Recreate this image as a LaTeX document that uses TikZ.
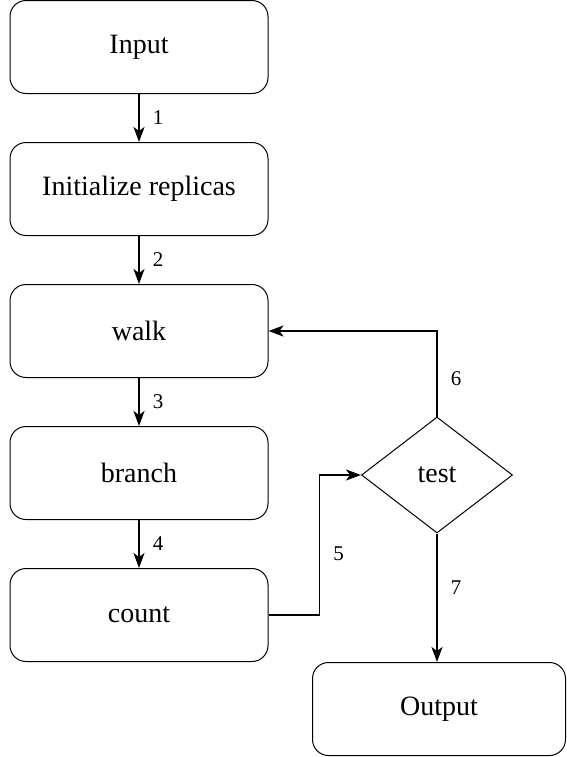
\documentclass[tikz,border=0pt]{standalone}
\usepackage{fontspec}
\setmainfont{Liberation Serif}
\usepackage{tikz}
\usetikzlibrary{arrows.meta}
\usetikzlibrary{positioning}
\usetikzlibrary{shapes.geometric}
\tikzstyle{every node}+=[inner sep=0pt]
\tikzstyle{block} = [rectangle, draw, line width=0.5pt, font=\fontsize{14}{16}\selectfont, text centered, rounded corners=8pt, minimum height=46.5pt, minimum width=129pt]
\tikzstyle{decision} = [diamond, draw, line width=0.5pt, font=\fontsize{14}{16}\selectfont, minimum width=75.5pt, minimum height=58pt]
\tikzstyle{line} = [draw, line width=0.9pt, -{Stealth[length=7.5pt, width=5.5pt, inset=2pt]}]
\tikzstyle{value} = [font=\fontsize{10.5}{12}\selectfont, inner sep=6.5pt]

\begin{document}
\begin{tikzpicture}[node distance = 71pt, auto]
            \useasboundingbox (0,0) rectangle (283.5pt,-378.5pt);
            % Place nodes
            \node [block] (in) at (69.5pt,-23.5pt) {Input};
            \node [block, below of=in] (init) {Initialize replicas};
            \node [block, below of=init] (walk) {walk};
            \node [block, below of=walk] (branch) {branch};
            \node [block, below of=branch] (count) {count};
            \node [decision, right of=branch, node distance=149pt, yshift=-1pt] (test) {test};
            \node [block, below of=test, node distance=117pt, xshift=1pt, minimum width=126.5pt] (out) {Output};
            % Draw edges
            \path [line] (in) -- node [value] {1} (init);
            \path [line] (init) -- node [value] {2} (walk);
            \path [line] (walk) -- node [value] {3} (branch);
            \path [line] (branch) -- node [value] {4} (count);
            \path [line] (count.east) -- ++(25.5pt,0) |- node [value, right, pos=0.22] {5} (test.west);
            \path [line] (test.north) |- node [value, right, pos=0.22] {6} (walk.east);
            \path [line] (test.south) -- node [value, right, pos=0.42] {7} (test.south |- out.north);
\end{tikzpicture}
\end{document}
